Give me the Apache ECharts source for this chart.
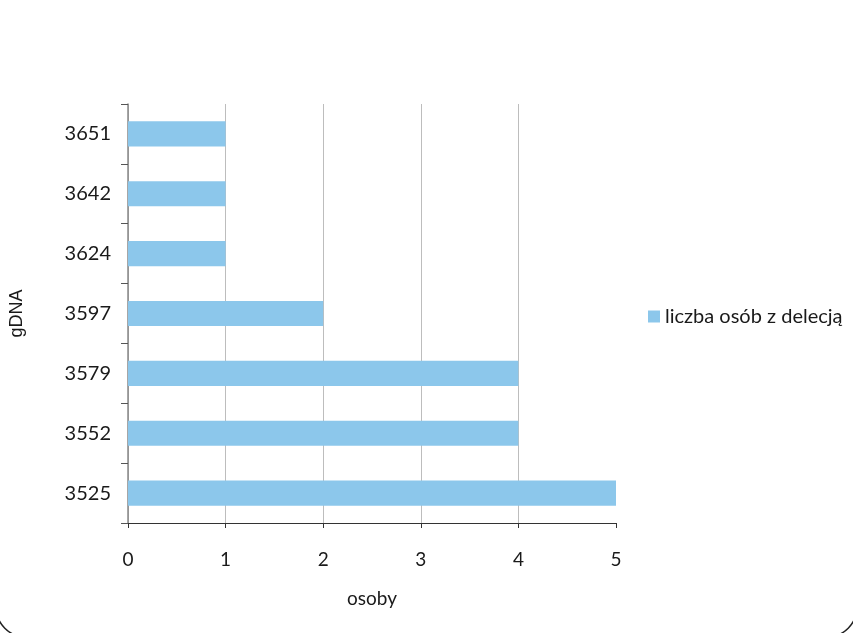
<!DOCTYPE html>
<html>
<head>
<meta charset="utf-8">
<script src="https://cdn.jsdelivr.net/npm/echarts@6/dist/echarts.min.js"></script>
<style>
  html, body { margin: 0; padding: 0; background: #fff; }
  #chart { width: 853px; height: 633px; }
</style>
</head>
<body>
<div id="chart"></div>
<script>
// gDNA positions (bottom to top) and number of people carrying each deletion
const positions = ['3525', '3552', '3579', '3597', '3624', '3642', '3651'];
const deletionCounts = [5, 4, 4, 2, 1, 1, 1];
const seriesName = 'liczba osób z delecją';
const xTicks = [0, 1, 2, 3, 4, 5];

const chart = echarts.init(document.getElementById('chart'));

const labelFont = 'Lato, "Open Sans", sans-serif';

chart.setOption({
  animation: false,
  backgroundColor: '#fff',
  graphic: [{
    type: 'rect',
    shape: { x: -4, y: -40, width: 861, height: 677, r: 30 },
    style: { fill: 'none', stroke: '#222', lineWidth: 1.5 },
    silent: true,
    z: 100
  }],
  grid: { left: 126, right: 237, top: 104, bottom: 110, containLabel: false },
  legend: {
    data: [seriesName],
    orient: 'vertical',
    left: 643,
    top: 'middle',
    itemWidth: 12,
    itemHeight: 12,
    itemGap: 6,
    textStyle: { fontFamily: labelFont, fontSize: 20, color: '#1a1a1a' },
    icon: 'rect'
  },
  xAxis: {
    type: 'value',
    min: xTicks[0],
    max: xTicks[xTicks.length - 1],
    interval: 1,
    name: 'osoby',
    nameLocation: 'middle',
    nameGap: 66,
    nameTextStyle: { fontFamily: labelFont, fontSize: 19, color: '#1a1a1a' },
    axisLine: { show: true, lineStyle: { color: '#333', width: 1.2 } },
    axisTick: { show: true, length: 5, lineStyle: { color: '#333' } },
    axisLabel: { margin: 27, fontFamily: labelFont, fontSize: 19, color: '#1a1a1a' },
    splitLine: {
      show: true,
      lineStyle: { color: ['#bdbdbd', '#bdbdbd', '#bdbdbd', '#bdbdbd', '#bdbdbd', 'rgba(0,0,0,0)'], width: 1 }
    }
  },
  yAxis: {
    type: 'category',
    data: positions,
    boundaryGap: true,
    name: 'gDNA',
    nameLocation: 'middle',
    nameRotate: 90,
    nameGap: 102,
    nameTextStyle: { fontFamily: 'Liberation Sans, Arial, sans-serif', fontSize: 18, color: '#1a1a1a' },
    axisLine: { show: true, lineStyle: { color: '#888', width: 1.5 } },
    axisTick: { show: true, length: 7, alignWithLabel: false, lineStyle: { color: '#555' } },
    axisLabel: { margin: 17, fontFamily: labelFont, fontSize: 20, color: '#1a1a1a' },
    splitLine: { show: false }
  },
  series: [{
    name: seriesName,
    type: 'bar',
    data: deletionCounts,
    barWidth: '42%',
    itemStyle: { color: '#8CC7EB' }
  }]
});
</script>
</body>
</html>
